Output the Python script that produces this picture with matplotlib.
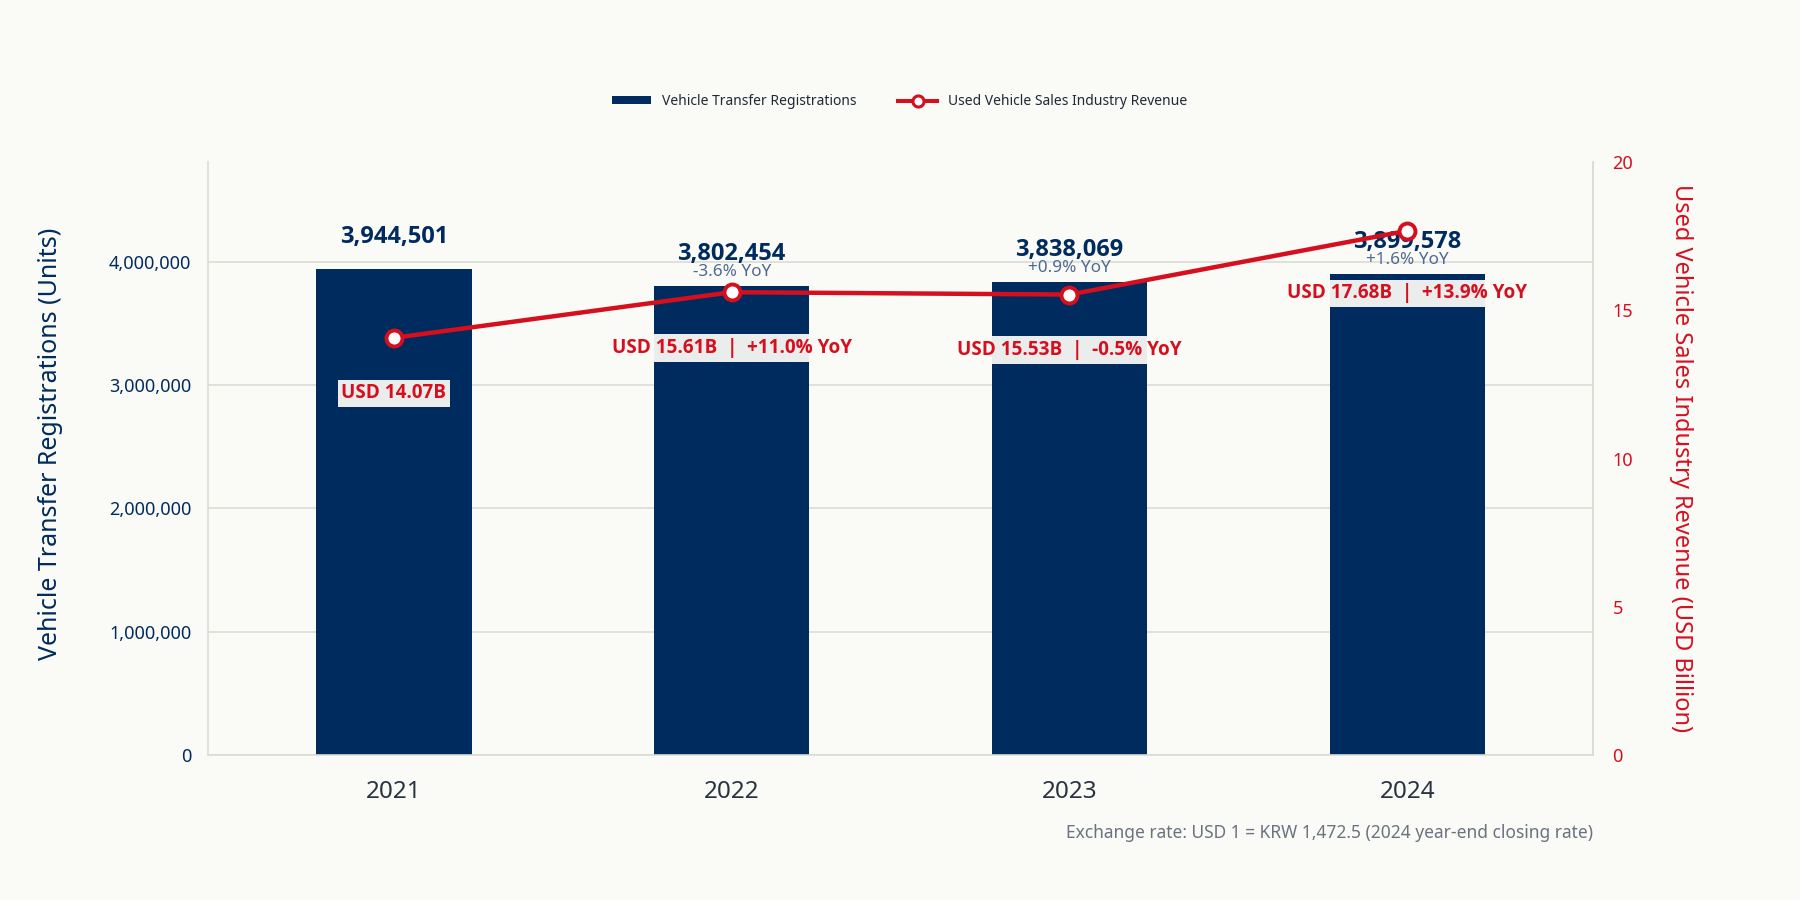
import matplotlib
matplotlib.use("Agg")
import matplotlib.pyplot as plt
from matplotlib.lines import Line2D
from matplotlib import font_manager
import numpy as np

years = ["2021", "2022", "2023", "2024"]
registrations = [3944501, 3802454, 3838069, 3899578]
reg_yoy = [None, "-3.6% YoY", "+0.9% YoY", "+1.6% YoY"]
revenue = [14.07, 15.61, 15.53, 17.68]
rev_yoy = [None, "+11.0% YoY", "-0.5% YoY", "+13.9% YoY"]
left_ticks = [0, 1000000, 2000000, 3000000, 4000000]
right_ticks = [0, 5, 10, 15, 20]

NAVY = "#002B5E"
RED = "#D60F1F"
BG = "#FAFAF6"
GRID = "#DCDCD6"
SLATE = "#4F6A90"
FOOT = "#6B7280"

plt.rcParams["font.family"] = ["Noto Sans", "DejaVu Sans"]

# pick a family that really has a bold face
bold_family = "Noto Sans"
for fam in ["Noto Sans", "Open Sans", "Lato", "Roboto"]:
    try:
        fp = font_manager.findfont(font_manager.FontProperties(family=fam, weight="bold"),
                                   fallback_to_default=False)
        if "bold" in fp.lower():
            bold_family = fam
            break
    except Exception:
        pass

fig = plt.figure(figsize=(18, 9), dpi=100, facecolor=BG)
ax = fig.add_axes([0.1156, 0.161, 0.7694, 0.659])
ax.set_facecolor(BG)
x = np.arange(len(years))

bars = ax.bar(x, registrations, width=0.46, color=NAVY, zorder=2,
              label="Vehicle Transfer Registrations")
ax.set_xlim(-0.55, 3.55)
ax.set_ylim(0, 4.81e6)
ax.set_yticks(left_ticks)
ax.set_yticklabels([f"{v:,}" for v in left_ticks])
ax.set_xticks(x)
ax.set_xticklabels(years)
ax.grid(axis="y", color=GRID, linewidth=1.2, zorder=0)
ax.set_axisbelow(True)
ax.tick_params(axis="y", length=0, pad=12, labelsize=13, labelcolor=NAVY)
ax.tick_params(axis="x", length=0, pad=18, labelsize=17.5, labelcolor="#2A3441")
ax.spines["top"].set_visible(False)
for s in ["left", "bottom", "right"]:
    ax.spines[s].set_color(GRID)
    ax.spines[s].set_linewidth(1.2)
ax.set_ylabel("Vehicle Transfer Registrations (Units)", color=NAVY, fontsize=18)
ax.yaxis.set_label_coords(-0.105, 0.525)

for i, v in enumerate(registrations):
    ax.annotate(f"{v:,}", (x[i], v), xytext=(0, 23), textcoords="offset points",
                ha="center", va="center", fontsize=17, fontweight="bold",
                family=[bold_family, "DejaVu Sans"], color=NAVY, zorder=3)
    if reg_yoy[i]:
        ax.annotate(reg_yoy[i], (x[i], v), xytext=(0, 10), textcoords="offset points",
                    ha="center", va="center", fontsize=12.3, color=SLATE, zorder=3)

ax2 = ax.twinx()
ax2.set_ylim(0, 20)
ax2.set_yticks(right_ticks)
ax2.tick_params(axis="y", length=0, pad=14, labelsize=13, labelcolor=RED)
for s in ["top", "left", "bottom"]:
    ax2.spines[s].set_visible(False)
ax2.spines["right"].set_color(GRID)
ax2.spines["right"].set_linewidth(1.2)
ax2.set_ylabel("Used Vehicle Sales Industry Revenue (USD Billion)", color=RED,
               fontsize=17, rotation=270)
ax2.yaxis.set_label_coords(1.0725, 0.5)

for i, v in enumerate(revenue):
    txt = f"USD {v:.2f}B" if rev_yoy[i] is None else f"USD {v:.2f}B  |  {rev_yoy[i]}"
    off = -40 if i < 3 else -45
    ax2.annotate(txt, (x[i], v), xytext=(0, off), textcoords="offset points",
                 ha="center", va="center", fontsize=13.6, fontweight="bold",
                 family=[bold_family, "DejaVu Sans"], color=RED,
                 bbox=dict(boxstyle="square,pad=0.2", facecolor=BG, alpha=0.94,
                           edgecolor="none"), zorder=4)

ax2.plot(x, revenue, color=RED, linewidth=3.2, marker="o", markersize=11.5,
         markerfacecolor="white", markeredgecolor=RED, markeredgewidth=2.8, zorder=5,
         label="Used Vehicle Sales Industry Revenue")

handles = [bars, Line2D([0], [0], color=RED, linewidth=2.9, marker="o", markersize=8,
                        markerfacecolor="white", markeredgecolor=RED, markeredgewidth=2.2)]
labels = ["Vehicle Transfer Registrations", "Used Vehicle Sales Industry Revenue"]
fig.legend(handles, labels, loc="center", bbox_to_anchor=(0.5, 0.887), ncol=2,
           frameon=False, fontsize=10, handlelength=2.8, handleheight=0.55,
           columnspacing=3.0, labelcolor="#1F2937")

fig.text(0.885, 0.074, "Exchange rate: USD 1 = KRW 1,472.5 (2024 year-end closing rate)",
         ha="right", va="center", fontsize=12.5, color=FOOT)

fig.savefig("out.png", dpi=100, facecolor=BG)
